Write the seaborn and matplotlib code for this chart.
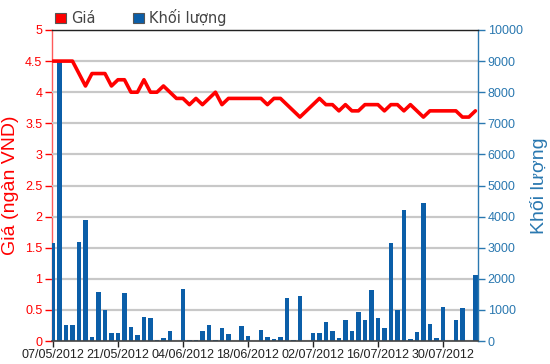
import numpy as np
import pandas as pd
import matplotlib
matplotlib.use("Agg")
import matplotlib.pyplot as plt
import seaborn as sns
from matplotlib.patches import Patch

# ---- data ----
dates = pd.bdate_range("2012-05-07", periods=66).strftime("%d/%m/%Y").tolist()
price = [4.5, 4.5, 4.5, 4.5, 4.3, 4.1, 4.3, 4.3, 4.3, 4.1,
         4.2, 4.2, 4.0, 4.0, 4.2, 4.0, 4.0, 4.1, 4.0, 3.9,
         3.9, 3.8, 3.9, 3.8, 3.9, 4.0, 3.8, 3.9, 3.9, 3.9,
         3.9, 3.9, 3.9, 3.8, 3.9, 3.9, 3.8, 3.7, 3.6, 3.7,
         3.8, 3.9, 3.8, 3.8, 3.7, 3.8, 3.7, 3.7, 3.8, 3.8,
         3.8, 3.7, 3.8, 3.8, 3.7, 3.8, 3.7, 3.6, 3.7, 3.7,
         3.7, 3.7, 3.7, 3.6, 3.6, 3.7]
volume = [3150, 9000, 500, 500, 3180, 3900, 130, 1580, 1010, 245,
          245, 1530, 450, 200, 770, 740, 40, 90, 315, 0,
          1660, 40, 40, 315, 520, 40, 410, 240, 0, 480,
          155, 0, 360, 130, 80, 130, 1390, 40, 1460, 0,
          255, 255, 615, 325, 100, 660, 325, 935, 660, 1630,
          740, 415, 3165, 1010, 4200, 50, 295, 4445, 545, 100,
          1105, 0, 660, 1055, 0, 2110]
tick_pos = [0, 10, 20, 30, 40, 50, 60]
tick_labels = ["07/05/2012", "21/05/2012", "04/06/2012", "18/06/2012",
               "02/07/2012", "16/07/2012", "30/07/2012"]
price_ticks = [0, 0.5, 1, 1.5, 2, 2.5, 3, 3.5, 4, 4.5, 5]
price_tick_labels = ["0", "0.5", "1", "1.5", "2", "2.5", "3", "3.5", "4", "4.5", "5"]
vol_ticks = list(range(0, 10001, 1000))

df = pd.DataFrame({"pos": np.arange(len(dates)), "date": dates,
                   "price": price, "volume": volume})

# ---- style ----
sns.set_theme(style="whitegrid", rc={"grid.color": "#c8c8c8", "grid.linewidth": 1.5})
plt.rcParams["font.family"] = ["Liberation Sans Narrow", "Liberation Sans", "DejaVu Sans"]

RED = "#ff0000"
BAR = "#0b5ea8"
BLUE_AX = "#2a78b0"
GRID = "#c8c8c8"

fig = plt.figure(figsize=(5.5, 3.64), dpi=100)
ax_p = fig.add_axes([52 / 550, 1 - 341 / 364, 426 / 550, 311 / 364])
ax_vol = ax_p.twinx()
ax_line = ax_p.twinx()

ax_p.set_ylim(0, 5)
ax_p.set_yticks(price_ticks)
ax_p.set_yticklabels(price_tick_labels)

sns.barplot(data=df, x="pos", y="volume", ax=ax_vol, native_scale=True,
            color=BAR, saturation=1, width=0.7, errorbar=None, linewidth=0)
ax_vol.set_ylim(0, 10000)
ax_vol.set_yticks(vol_ticks)
ax_vol.grid(False)
# horizontal grid drawn in the bar axes, below the bars
ax_vol.hlines(vol_ticks, 0, 1, transform=ax_vol.get_yaxis_transform(),
              colors=GRID, linewidth=1.5, zorder=0.3)

sns.lineplot(data=df, x="pos", y="price", ax=ax_line, color=RED, linewidth=2.6)
ax_line.set_ylim(0, 5)
ax_line.axis("off")

ax_p.set_xlim(-0.15, 65.4)
ax_p.set_xticks(tick_pos)
ax_p.set_xticklabels(tick_labels)
ax_p.set_xlabel("")

ax_p.set_ylabel("Giá (ngàn VND)", color=RED, fontsize=14,
                family=["Liberation Sans", "DejaVu Sans"], labelpad=4)
ax_vol.set_ylabel("Khối lượng", color=BLUE_AX, fontsize=14,
                  family=["Liberation Sans", "DejaVu Sans"], labelpad=5)

ax_p.tick_params(axis="y", colors=RED, labelcolor=RED, labelsize=9,
                 length=5, width=1, direction="out", pad=2, left=True, right=False)
ax_vol.tick_params(axis="y", colors=BLUE_AX, labelcolor=BLUE_AX, labelsize=9,
                   length=5, width=1, direction="out", pad=2, right=True, left=False)
ax_p.tick_params(axis="x", colors="#222222", labelcolor="#222222", labelsize=9,
                 length=4, width=1, direction="out", pad=2, bottom=True)
ax_vol.tick_params(axis="x", bottom=False, labelbottom=False, top=False)

for a in (ax_vol, ax_p):
    for s in a.spines.values():
        s.set_visible(False)
ax_p.spines["left"].set_visible(True)
ax_p.spines["left"].set_color("#ff5a5a")
ax_p.spines["left"].set_linewidth(1)
ax_vol.spines["right"].set_visible(True)
ax_vol.spines["right"].set_color(BLUE_AX)
ax_vol.spines["right"].set_linewidth(1)
ax_vol.spines["top"].set_visible(True)
ax_vol.spines["top"].set_color("#222222")
ax_vol.spines["top"].set_linewidth(1)
ax_vol.spines["bottom"].set_visible(True)
ax_vol.spines["bottom"].set_color("#444444")
ax_vol.spines["bottom"].set_linewidth(1.2)

# legend
handles = [Patch(facecolor=RED, edgecolor="#555555", linewidth=0.8),
           Patch(facecolor=BAR, edgecolor="#555555", linewidth=0.8)]
fig.legend(handles=handles, labels=["Giá", "Khối lượng"], ncol=2,
           loc="lower left", bbox_to_anchor=(55 / 550, 1 - 26 / 364),
           frameon=False, handlelength=0.75, handleheight=0.75,
           handletextpad=0.35, columnspacing=2.6, borderaxespad=0, borderpad=0,
           labelcolor="#444444",
           prop={"family": ["DejaVu Sans"], "size": 10.5})

# host grid as well (same positions)
ax_p.xaxis.grid(False)
ax_p.yaxis.grid(True, color=GRID, linewidth=1.5)
ax_p.set_axisbelow(True)
ax_vol.patch.set_visible(False)
ax_line.patch.set_visible(False)

fig.canvas.draw()
fig.savefig("out.png", dpi=100, facecolor="white")
